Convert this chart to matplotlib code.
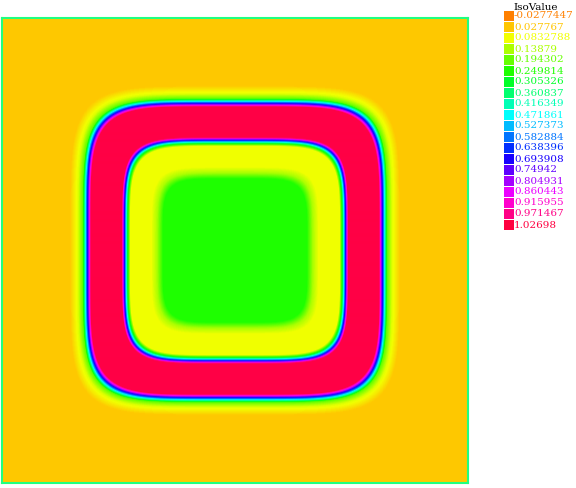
import numpy as np
import matplotlib
matplotlib.use("Agg")
import matplotlib.pyplot as plt
from matplotlib.colors import LinearSegmentedColormap, hsv_to_rgb
from matplotlib.patches import Rectangle

# Iso values shown in the legend
iso_values = [-0.0277447, 0.027767, 0.0832788, 0.13879, 0.194302, 0.249814,
              0.305326, 0.360837, 0.416349, 0.471861, 0.527373, 0.582884,
              0.638396, 0.693908, 0.74942, 0.804931, 0.860443, 0.915955,
              0.971467, 1.02698]
iso_labels = ["-0.0277447", "0.027767", "0.0832788", "0.13879", "0.194302",
              "0.249814", "0.305326", "0.360837", "0.416349", "0.471861",
              "0.527373", "0.582884", "0.638396", "0.693908", "0.74942",
              "0.804931", "0.860443", "0.915955", "0.971467", "1.02698"]

# Profile of the solution, going out from the centre
# (distance as a fraction of the half width of the square domain)
profile_r = [0.0, 0.31, 0.335, 0.36, 0.45, 0.462, 0.487,
             0.62, 0.655, 0.675, 0.71, 1.5]
profile_u = [0.25, 0.25, 0.14, 0.085, 0.085, 0.3, 1.02,
             1.02, 0.2, 0.1, 0.03, 0.03]

# Palette: hue sweep like the FreeFem default
n = len(iso_values)
hues = (30 + np.arange(n) * 315 / (n - 1)) / 360.0
colors = [hsv_to_rgb((h, 1, 1)) for h in hues]
cmap = LinearSegmentedColormap.from_list("ff", colors)

# Build the field on the square
N = 466
x = np.linspace(-1, 1, N)
X, Y = np.meshgrid(x, x)
p = 5.5
R = (np.abs(X) ** p + np.abs(Y) ** p) ** (1 / p)
U = np.interp(R, profile_r, profile_u)

fig = plt.figure(figsize=(5.76, 4.88), dpi=100)
W, H = 576, 488
ax = fig.add_axes([2 / W, 5 / H, 466 / W, 465 / H])
ax.imshow(U, cmap=cmap, vmin=iso_values[0], vmax=iso_values[-1],
          extent=(-1, 1, -1, 1), origin="lower", interpolation="bilinear",
          aspect="auto")
ax.set_xticks([])
ax.set_yticks([])
for spine in ax.spines.values():
    spine.set_color("#20FF80")
    spine.set_linewidth(1.5)

# Legend
fig.text(513 / W, 1 - 8 / H, "IsoValue", fontsize=7.5, family="DejaVu Serif",
         color="black", va="center", ha="left")
for i, (lab, c) in enumerate(zip(iso_labels, colors)):
    y0 = 11 + i * 11
    fig.patches.append(Rectangle((504 / W, 1 - (y0 + 10) / H), 10 / W, 10 / H,
                                 transform=fig.transFigure, facecolor=c,
                                 edgecolor="none"))
    fig.text(514 / W, 1 - (y0 + 5) / H, lab, fontsize=7.5, family="DejaVu Serif",
             color=c, va="center", ha="left")

plt.savefig("out.png", dpi=100)
plt.close()
